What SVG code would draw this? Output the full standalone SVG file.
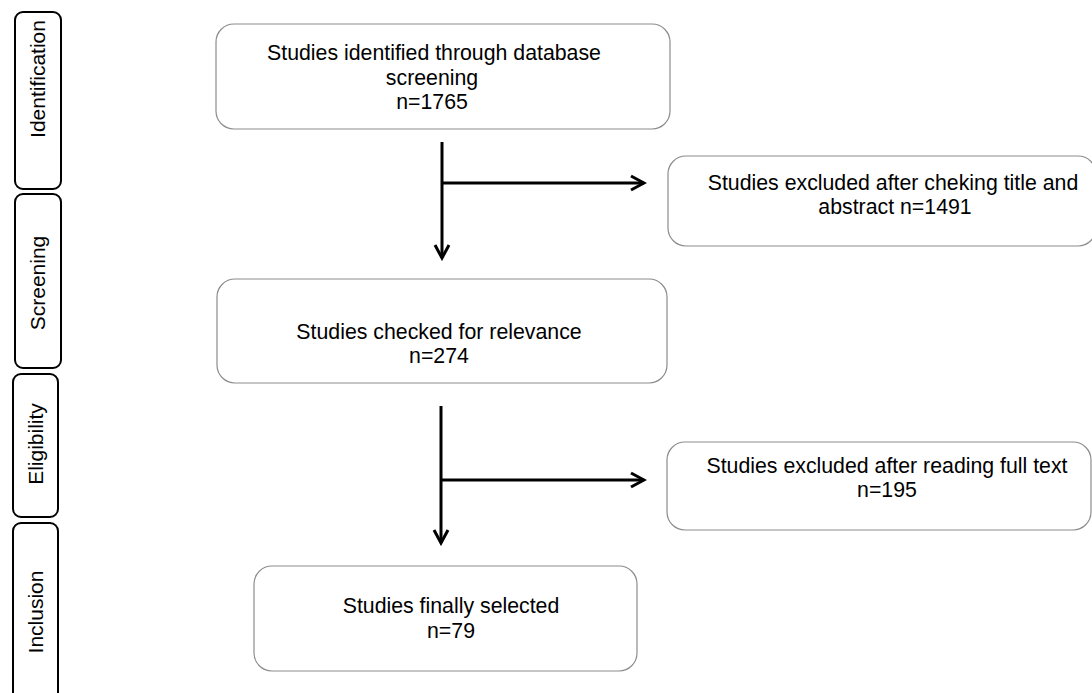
<svg xmlns="http://www.w3.org/2000/svg" width="1092" height="693" viewBox="0 0 1092 693">
<style>
.box{fill:#fff;stroke:#8c8c8c;stroke-width:1.2}
.tab{fill:#fff;stroke:#000;stroke-width:2}
.t{font-family:"Liberation Sans",Arial,sans-serif;font-size:21.3px;fill:#000;text-anchor:middle}
.tt{font-family:"Liberation Sans",Arial,sans-serif;font-size:21px;fill:#000;text-anchor:middle}
.c{stroke:#000;stroke-width:3;fill:none}
</style>
<defs>
<marker id="arr" viewBox="0 0 18 18" refX="15" refY="9" markerWidth="18" markerHeight="18" markerUnits="userSpaceOnUse" orient="auto">
<path d="M2,2 L15,9 L2,16" fill="none" stroke="#000" stroke-width="3"/>
</marker>
</defs>
<rect width="1092" height="693" fill="#fff"/>
<g id="tab-identification">
<rect class="tab" x="15" y="12" width="46" height="177" rx="8"/>
<text class="tt" font-size="18.5" transform="translate(44.5,79) rotate(-90)">Identification</text>
</g>
<g id="tab-screening">
<rect class="tab" x="15" y="194" width="46" height="174" rx="8"/>
<text class="tt" transform="translate(44.5,283) rotate(-90)">Screening</text>
</g>
<g id="tab-eligibility">
<rect class="tab" x="13" y="374" width="45" height="143" rx="8"/>
<text class="tt" transform="translate(42.5,444) rotate(-90)">Eligibility</text>
</g>
<g id="tab-inclusion">
<rect class="tab" x="13" y="523" width="45" height="190" rx="8"/>
<text class="tt" transform="translate(42.5,612) rotate(-90)">Inclusion</text>
</g>
<g id="n1">
<rect class="box" x="216" y="24" width="454" height="105" rx="18"/>
<text class="t" x="434" y="60">Studies identified through database</text>
<text class="t" x="432" y="84.5">screening</text>
<text class="t" x="432" y="109">n=1765</text>
</g>
<g id="n2">
<rect class="box" x="668" y="156" width="428" height="90" rx="18"/>
<text class="t" x="893" y="190">Studies excluded after cheking title and</text>
<text class="t" x="895" y="214">abstract n=1491</text>
</g>
<g id="n3">
<rect class="box" x="217" y="279" width="450" height="104" rx="18"/>
<text class="t" x="439" y="339">Studies checked for relevance</text>
<text class="t" x="439" y="363">n=274</text>
</g>
<g id="n4">
<rect class="box" x="667" y="442" width="424" height="88" rx="18"/>
<text class="t" x="887" y="473">Studies excluded after reading full text</text>
<text class="t" x="887" y="497">n=195</text>
</g>
<g id="n5">
<rect class="box" x="254" y="566" width="383" height="105" rx="18"/>
<text class="t" x="451" y="613">Studies finally selected</text>
<text class="t" x="451" y="638">n=79</text>
</g>
<g id="connectors">
<line class="c" x1="442" y1="142" x2="442" y2="258" marker-end="url(#arr)"/>
<line class="c" x1="442" y1="183" x2="644" y2="183" marker-end="url(#arr)"/>
<line class="c" x1="441" y1="406" x2="441" y2="543" marker-end="url(#arr)"/>
<line class="c" x1="441" y1="480" x2="644" y2="480" marker-end="url(#arr)"/>
</g>
</svg>
